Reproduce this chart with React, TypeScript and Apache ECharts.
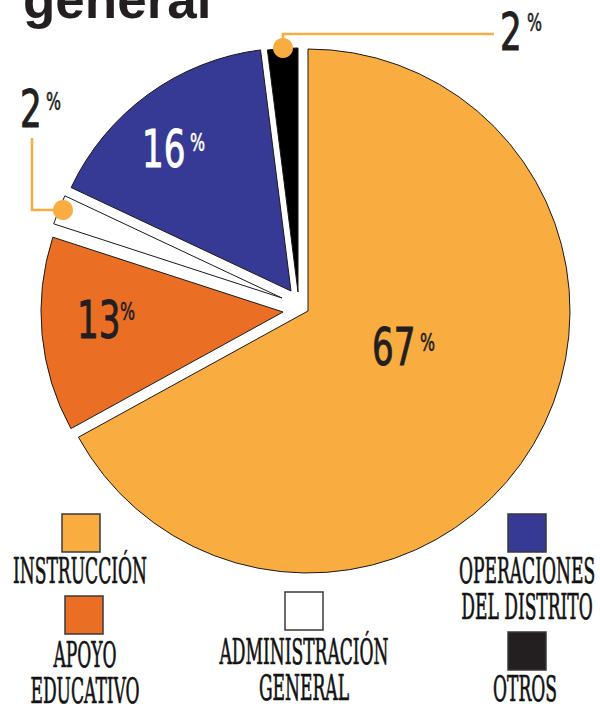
import React, { useEffect, useRef } from "react";
import * as echarts from "echarts";

// ---- data ----
const categories = [
  "INSTRUCCIÓN",
  "APOYO EDUCATIVO",
  "ADMINISTRACIÓN GENERAL",
  "OPERACIONES DEL DISTRITO",
  "OTROS",
];
const values = [67, 13, 2, 16, 2];
const legendLines = [
  ["INSTRUCCIÓN"],
  ["APOYO", "EDUCATIVO"],
  ["ADMINISTRACIÓN", "GENERAL"],
  ["OPERACIONES", "DEL DISTRITO"],
  ["OTROS"],
];
const titleText = "general";

// ---- styling / layout ----
const colors = ["#F9AC40", "#EA6F25", "#FFFFFF", "#373A94", "#000000"];
const legendColors = ["#F9AC40", "#EA6F25", "#FFFFFF", "#373A94", "#231F20"];
const accent = "#F9AC40";
const dark = "#231F20";

// exploded slice geometry: [cx, cy, r]
const sliceGeom = [
  [308, 311, 262],
  [283, 312, 242],
  [282, 298, 240],
  [291, 291, 243],
  [298, 292, 244],
];

// value label layout: [numLeftX, numCenterY, pctX, pctCenterY, color]
const labelLayout: any[] = [
  [372, 347, 420, 343, dark],
  [77, 320, 120, 312, dark],
  [20, 109, 46, 102, dark],
  [142, 149, 190, 143, "#FFFFFF"],
  [500, 32, 527, 23, dark],
];

// legend layout: [squareX, squareY, textCenterX, firstLineY]
const legendLayout = [
  [62, 514, 80, 570],
  [65, 596, 85, 654],
  [285, 592, 304, 651],
  [508, 514, 527, 570],
  [508, 632, 525, 688],
];
const legendLineGap = 36;
const squareSize = 38;
const legendFont = "36px 'DejaVu Serif Condensed', 'DejaVu Serif', serif";
const legendRefWidth = 134; // width of first legend line

function measure(text: string, font: string) {
  const c = document.createElement("canvas").getContext("2d");
  if (!c) return 1;
  c.font = font;
  return c.measureText(text).width || 1;
}

export default function App() {
  const ref = useRef<HTMLDivElement>(null);

  useEffect(() => {
    if (!ref.current) return;
    const chart = echarts.init(ref.current, null, { renderer: "svg" });

    const series = sliceGeom.map((g, i) => ({
      type: "pie",
      center: [g[0], g[1]],
      radius: [0, g[2]],
      startAngle: 90,
      clockwise: true,
      silent: true,
      avoidLabelOverlap: false,
      label: { show: false },
      labelLine: { show: false },
      emphasis: { disabled: true },
      z: 2,
      data: values.map((v, j) => ({
        value: v,
        name: categories[j],
        itemStyle:
          j === i
            ? { color: colors[j], borderColor: "#1a1a1a", borderWidth: 1 }
            : { color: "rgba(0,0,0,0)", borderWidth: 0 },
      })),
    }));

    const graphics: any[] = [];

    // title (cropped at top)
    graphics.push({
      type: "text",
      x: 23,
      y: -1,
      z: 100,
      style: {
        text: titleText,
        font: "bold 53px 'Liberation Sans', Arial, sans-serif",
        fill: dark,
        textAlign: "left",
        textVerticalAlign: "middle",
      },
    });

    // leader lines & dots for small slices
    graphics.push({
      type: "polyline",
      z: 100,
      shape: { points: [[283, 48], [283, 34], [494, 34]] },
      style: { stroke: accent, lineWidth: 2.5, fill: null },
    });
    graphics.push({
      type: "circle",
      z: 101,
      shape: { cx: 283, cy: 48, r: 10 },
      style: { fill: accent },
    });
    graphics.push({
      type: "polyline",
      z: 100,
      shape: { points: [[63, 210], [32, 210], [32, 138]] },
      style: { stroke: accent, lineWidth: 2.5, fill: null },
    });
    graphics.push({
      type: "circle",
      z: 101,
      shape: { cx: 63, cy: 210, r: 10 },
      style: { fill: accent },
    });

    // value labels
    values.forEach((v, i) => {
      const L = labelLayout[i];
      graphics.push({
        type: "text",
        x: L[0],
        y: L[1],
        scaleX: 0.67,
        z: 110,
        style: {
          text: String(v),
          font: "51px 'DejaVu Sans', sans-serif",
          fill: L[4],
          stroke: L[4],
          lineWidth: 1.0,
          textAlign: "left",
          textVerticalAlign: "middle",
        },
      });
      graphics.push({
        type: "text",
        x: L[2],
        y: L[3],
        scaleX: 0.66,
        z: 110,
        style: {
          text: "%",
          font: "24px 'DejaVu Sans', sans-serif",
          fill: L[4],
          stroke: L[4],
          lineWidth: 0.6,
          textAlign: "left",
          textVerticalAlign: "middle",
        },
      });
    });

    // legend
    const legendScale = legendRefWidth / measure(legendLines[0][0], legendFont);
    categories.forEach((c, i) => {
      const L = legendLayout[i];
      graphics.push({
        type: "rect",
        z: 100,
        shape: { x: L[0], y: L[1], width: squareSize, height: squareSize },
        style: { fill: legendColors[i], stroke: "#3a3a3a", lineWidth: 1.5 },
      });
      legendLines[i].forEach((line, k) => {
        graphics.push({
          type: "text",
          x: L[2],
          y: L[3] + k * legendLineGap,
          scaleX: legendScale,
          z: 100,
          style: {
            text: line,
            font: legendFont,
            fill: "#111111",
            stroke: "#111111",
            lineWidth: 0.7,
            textAlign: "center",
            textVerticalAlign: "middle",
          },
        });
      });
    });

    chart.setOption({
      animation: false,
      backgroundColor: "#ffffff",
      series,
      graphic: { elements: graphics },
    });

    return () => chart.dispose();
  }, []);

  return (
    <div
      ref={ref}
      style={{ position: "fixed", left: 0, top: 0, width: 600, height: 704 }}
    />
  );
}
